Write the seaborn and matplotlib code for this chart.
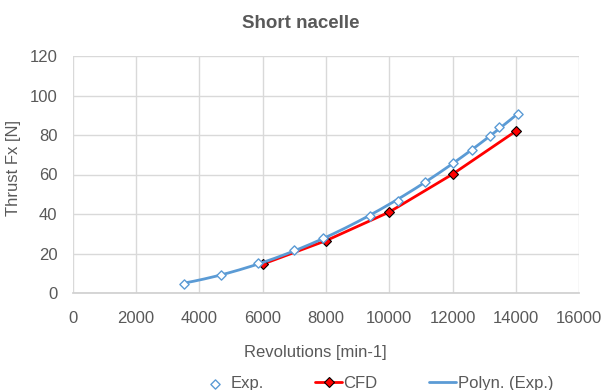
import numpy as np
import pandas as pd
import matplotlib
matplotlib.use("Agg")
import matplotlib.pyplot as plt
import seaborn as sns

exp_rpm = [3515, 4684, 5852, 6990, 7906, 9390, 10275, 11128, 12013, 12613, 13182, 13466, 14066]
exp_thrust = [4.6, 9.1, 15.2, 21.8, 27.8, 39.0, 46.6, 56.2, 65.8, 72.4, 79.5, 84.0, 90.6]
cfd_rpm = [6000, 8000, 10000, 12000, 14000]
cfd_thrust = [14.6, 26.5, 41.0, 60.2, 82.0]
title = "Short nacelle"
xlabel = "Revolutions [min-1]"
ylabel = "Thrust Fx [N]"

sns.set_theme(style="white")
plt.rcParams['font.family'] = ['Liberation Sans', 'DejaVu Sans']

blue = "#5b9bd5"
red = "#ff0000"
grey = "#595959"
FS = 12

fig = plt.figure(figsize=(6.03, 3.90), dpi=100)
x0, x1, yt, yb = 72.7, 579.3, 56, 293
ax = fig.add_axes([x0/603, 1 - yb/390, (x1-x0)/603, (yb-yt)/390])

df_exp = pd.DataFrame({"rpm": exp_rpm, "thrust": exp_thrust})
df_cfd = pd.DataFrame({"rpm": cfd_rpm, "thrust": cfd_thrust})

# polynomial trendline (2nd order) of experiment
coef = np.polyfit(exp_rpm, exp_thrust, 2)
xs = np.linspace(min(exp_rpm), max(exp_rpm), 200)
df_poly = pd.DataFrame({"rpm": xs, "thrust": np.polyval(coef, xs)})

sns.lineplot(data=df_cfd, x="rpm", y="thrust", ax=ax, color=red, lw=2,
             marker="D", markersize=5, markerfacecolor=red, markeredgecolor="black",
             markeredgewidth=0.8, label="CFD", zorder=3)
sns.lineplot(data=df_poly, x="rpm", y="thrust", ax=ax, color=blue, lw=2,
             label="Polyn. (Exp.)", zorder=4)
sns.scatterplot(data=df_exp, x="rpm", y="thrust", ax=ax, marker="D", s=22,
                facecolor="white", edgecolor=blue, linewidth=1, label="Exp.", zorder=5)

ax.set_xlim(0, 16000)
ax.set_ylim(0, 120)
ax.set_xticks(range(0, 16001, 2000))
ax.set_yticks(range(0, 121, 20))
ax.grid(True, color="#d9d9d9", lw=1)
ax.set_axisbelow(True)
for s in ["top", "right", "left"]:
    ax.spines[s].set_visible(False)
ax.spines["bottom"].set_color("#d0d0d0")
ax.tick_params(axis="both", colors=grey, labelsize=FS, length=0)
ax.tick_params(axis="x", pad=13)
ax.tick_params(axis="y", pad=11)
for lab in ax.get_xticklabels() + ax.get_yticklabels():
    lab.set_color(grey)

ax.set_xlabel(xlabel, color=grey, fontsize=FS)
ax.set_ylabel(ylabel, color=grey, fontsize=FS)
ax.xaxis.set_label_coords((315 - x0)/(x1 - x0), (yb - 353)/(yb - yt), transform=ax.transAxes)
ax.yaxis.set_label_coords((14 - x0)/(x1 - x0), (yb - 168)/(yb - yt), transform=ax.transAxes)
ax.xaxis.label.set_va("center")
ax.yaxis.label.set_va("center")

fig.text(301/603, 1 - 23.5/390, title, ha="center", va="center",
         fontsize=13.5, fontweight="bold", color=grey)

h, l = ax.get_legend_handles_labels()
order = [l.index("Exp."), l.index("CFD"), l.index("Polyn. (Exp.)")]
leg = ax.legend([h[i] for i in order], [l[i] for i in order], loc="center left",
                bbox_to_anchor=(202/603, 1 - 383.5/390), bbox_transform=fig.transFigure,
                ncol=3, frameon=False, borderpad=0, borderaxespad=0,
                fontsize=FS, handlelength=1.6, columnspacing=3.1, handletextpad=0.1)
for t in leg.get_texts():
    t.set_color(grey)

fig.savefig("out.png", dpi=100, facecolor="white")
